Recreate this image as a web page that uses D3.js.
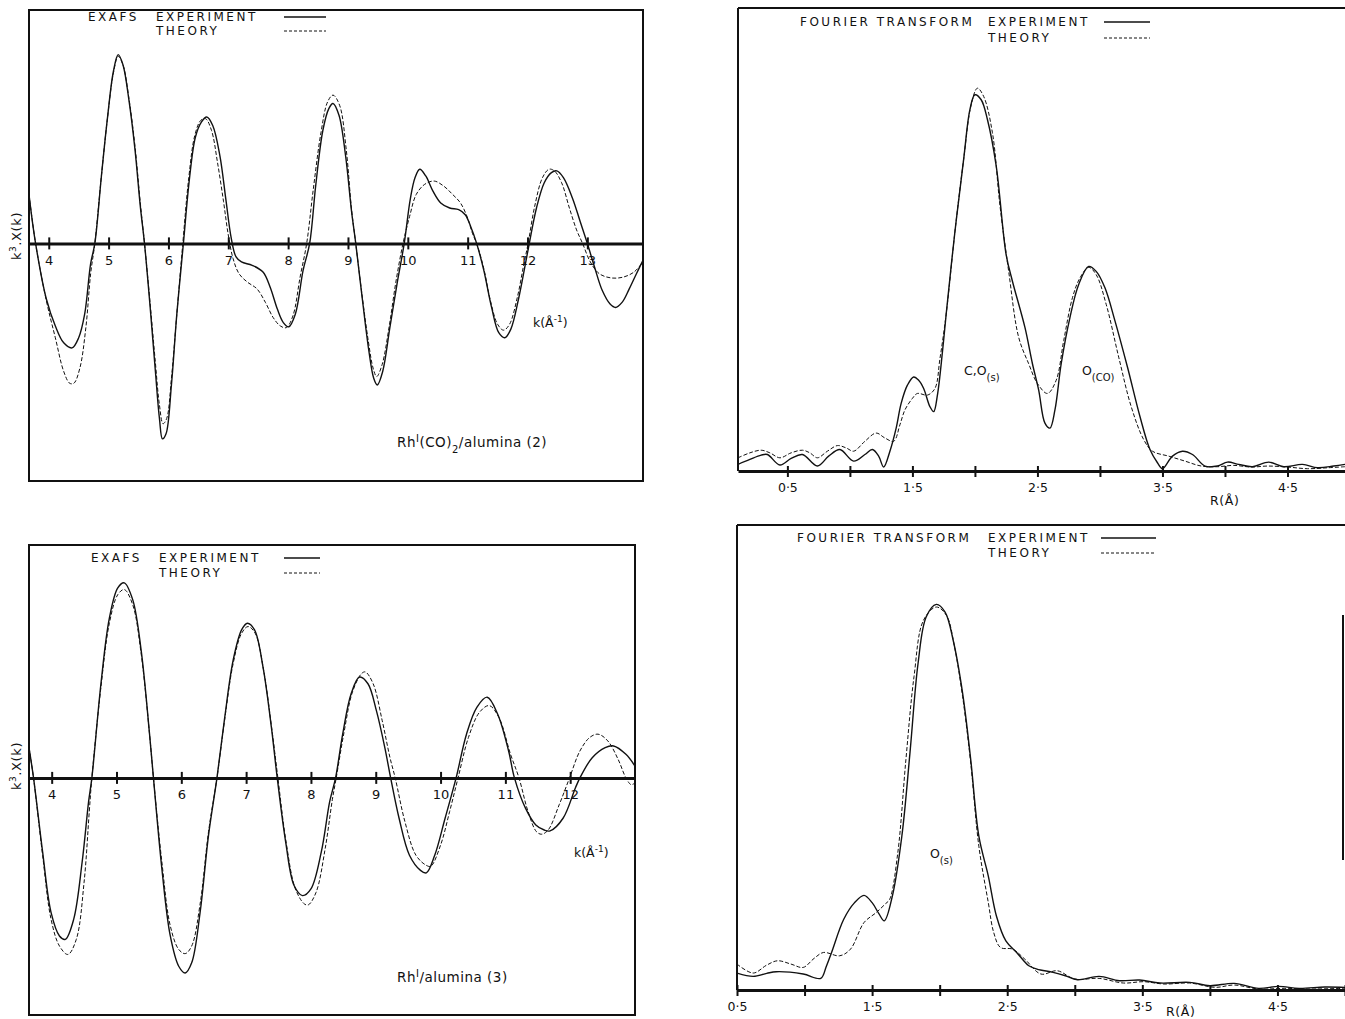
<!DOCTYPE html>
<html>
<head>
<meta charset="utf-8">
<script src="https://cdn.jsdelivr.net/npm/d3@7"></script>
<style>
  body { margin: 0; background: #fff; }
  svg text { font-family: "DejaVu Sans", sans-serif; fill: #111; }
</style>
</head>
<body>
<svg id="fig" width="1345" height="1019"></svg>
<script>
// ---- data (k in 1/A, R in A, amplitudes in arbitrary units) ----
const kTicksTop = [4, 5, 6, 7, 8, 9, 10, 11, 12, 13];
const kTicksBottom = [4, 5, 6, 7, 8, 9, 10, 11, 12];
const rTicks = [0.5, 1, 1.5, 2, 2.5, 3, 3.5, 4, 4.5, 5];
const rLabelled = [0.5, 1.5, 2.5, 3.5, 4.5];

// Rh(I)(CO)2/alumina (2) - EXAFS
const exafs2Experiment = [[3.67,2.9],[3.78,0],[3.96,-3.3],[4.11,-4.9],[4.25,-5.9],[4.39,-6.2],[4.50,-5.6],[4.60,-4.2],[4.70,-1.2],[4.77,0],[4.88,4.0],[4.98,7.4],[5.08,10.2],[5.16,11.2],[5.24,10.6],[5.34,8.5],[5.44,5.6],[5.53,2.2],[5.60,0],[5.69,-3.6],[5.78,-7.5],[5.85,-10.4],[5.90,-11.6],[5.96,-11.3],[6.05,-8.4],[6.14,-4.2],[6.25,0],[6.35,3.8],[6.45,6.3],[6.55,7.2],[6.64,7.5],[6.74,7.0],[6.86,5.2],[6.96,2.6],[7.05,0.3],[7.13,-0.8],[7.22,-1.1],[7.40,-1.3],[7.58,-1.7],[7.70,-2.6],[7.82,-3.9],[7.92,-4.7],[8.01,-4.95],[8.12,-4.2],[8.25,-1.6],[8.36,0],[8.46,3.4],[8.58,6.7],[8.68,8.0],[8.75,8.3],[8.85,7.6],[8.96,5.2],[9.06,1.9],[9.13,0],[9.24,-3.3],[9.35,-6.4],[9.43,-8.0],[9.49,-8.4],[9.58,-7.6],[9.70,-5.0],[9.82,-2.4],[9.94,0],[10.04,2.6],[10.12,3.9],[10.20,4.4],[10.30,4.0],[10.42,3.1],[10.55,2.4],[10.70,2.1],[10.85,2.0],[10.96,1.7],[11.05,1.0],[11.15,0],[11.27,-1.6],[11.40,-3.8],[11.52,-5.3],[11.62,-5.6],[11.72,-5.1],[11.85,-3.3],[11.95,-1.5],[12.03,0],[12.15,2.1],[12.28,3.6],[12.40,4.2],[12.49,4.3],[12.60,3.9],[12.75,2.7],[12.88,1.3],[13.00,0],[13.12,-1.4],[13.25,-2.8],[13.38,-3.6],[13.47,-3.8],[13.58,-3.5],[13.70,-2.7],[13.82,-1.8],[13.93,-1.0]];
const exafs2Theory = [[3.67,2.9],[3.78,0],[3.96,-3.4],[4.11,-5.6],[4.25,-7.6],[4.35,-8.3],[4.42,-8.3],[4.52,-7.4],[4.62,-5.0],[4.70,-1.8],[4.77,0],[4.88,4.0],[4.98,7.4],[5.08,10.1],[5.16,11.1],[5.24,10.6],[5.34,8.6],[5.44,5.8],[5.53,2.4],[5.60,0],[5.69,-3.4],[5.78,-7.0],[5.85,-9.6],[5.91,-10.7],[5.97,-10.4],[6.05,-8.0],[6.14,-4.2],[6.24,0],[6.34,3.9],[6.44,6.4],[6.54,7.3],[6.62,7.4],[6.72,6.7],[6.82,4.8],[6.92,2.5],[7.00,0.5],[7.08,-0.9],[7.18,-1.8],[7.32,-2.3],[7.48,-2.7],[7.62,-3.5],[7.75,-4.4],[7.87,-4.9],[7.97,-5.0],[8.08,-4.3],[8.20,-2.0],[8.31,0],[8.42,3.2],[8.55,6.6],[8.66,8.4],[8.75,8.8],[8.86,8.2],[8.97,5.6],[9.06,2.0],[9.13,0],[9.24,-3.2],[9.34,-5.8],[9.42,-7.4],[9.48,-7.9],[9.57,-7.2],[9.69,-4.9],[9.80,-2.3],[9.92,0],[10.03,1.6],[10.14,2.9],[10.28,3.5],[10.44,3.7],[10.60,3.4],[10.75,2.9],[10.88,2.4],[11.00,1.5],[11.08,0.6],[11.15,0],[11.27,-1.5],[11.38,-3.4],[11.50,-4.8],[11.60,-5.15],[11.70,-4.8],[11.83,-3.2],[11.93,-1.4],[12.01,0],[12.12,2.2],[12.25,3.9],[12.36,4.4],[12.45,4.3],[12.57,3.6],[12.70,2.1],[12.82,0.8],[12.92,0],[13.05,-1.1],[13.20,-1.8],[13.40,-2.05],[13.60,-2.0],[13.78,-1.7],[13.93,-1.1]];

// Rh(I)/alumina (3) - EXAFS
const exafs3Experiment = [[3.65,1.8],[3.72,0],[3.86,-4.4],[3.99,-8.0],[4.12,-9.4],[4.21,-9.6],[4.34,-8.4],[4.47,-5.0],[4.57,-1.4],[4.62,0],[4.76,5.6],[4.89,9.5],[5.02,11.3],[5.12,11.6],[5.25,10.6],[5.38,7.6],[5.51,2.6],[5.57,0],[5.70,-5.4],[5.83,-9.4],[5.96,-11.2],[6.06,-11.6],[6.16,-11.0],[6.29,-8.0],[6.42,-3.4],[6.55,0],[6.67,3.6],[6.80,7.0],[6.93,8.8],[7.02,9.2],[7.13,8.8],[7.26,6.6],[7.39,3.0],[7.48,0],[7.61,-3.8],[7.74,-6.4],[7.87,-7.0],[8.00,-6.6],[8.16,-4.4],[8.29,-1.4],[8.38,0],[8.49,2.6],[8.62,5.0],[8.75,6.0],[8.88,5.6],[9.01,4.0],[9.14,1.8],[9.23,0],[9.36,-2.4],[9.52,-4.6],[9.69,-5.5],[9.78,-5.65],[9.91,-4.6],[10.07,-2.4],[10.24,0],[10.40,2.6],[10.56,4.2],[10.72,4.8],[10.88,3.8],[11.05,1.6],[11.14,0],[11.31,-1.8],[11.47,-2.8],[11.60,-3.1],[11.69,-3.15],[11.89,-2.4],[12.08,-0.6],[12.15,0],[12.34,1.2],[12.54,1.8],[12.67,1.9],[12.86,1.4],[13.0,0.7]];
const exafs3Theory = [[3.65,1.8],[3.72,0],[3.86,-4.6],[3.99,-8.4],[4.12,-10.0],[4.25,-10.5],[4.38,-9.6],[4.50,-6.2],[4.58,-2.0],[4.62,0],[4.76,5.4],[4.89,9.2],[5.02,10.9],[5.12,11.2],[5.25,10.3],[5.38,7.4],[5.51,2.6],[5.57,0],[5.70,-5.0],[5.83,-8.8],[5.96,-10.2],[6.06,-10.45],[6.16,-10.0],[6.29,-7.5],[6.42,-3.2],[6.55,0],[6.67,3.5],[6.80,6.8],[6.93,8.6],[7.03,9.0],[7.14,8.6],[7.27,6.4],[7.40,2.8],[7.49,0],[7.62,-3.9],[7.76,-6.6],[7.90,-7.5],[7.96,-7.55],[8.08,-6.8],[8.22,-4.2],[8.33,-1.3],[8.39,0],[8.51,2.7],[8.64,5.1],[8.78,6.2],[8.84,6.3],[8.96,5.6],[9.10,3.4],[9.22,1.2],[9.30,0],[9.45,-2.6],[9.62,-4.6],[9.78,-5.2],[9.85,-5.25],[10.00,-4.0],[10.14,-2.0],[10.27,0],[10.43,2.4],[10.60,3.9],[10.75,4.3],[10.90,3.6],[11.08,1.4],[11.21,0],[11.35,-2.0],[11.48,-3.2],[11.56,-3.35],[11.66,-3.1],[11.83,-1.6],[11.99,0],[12.15,1.6],[12.30,2.4],[12.43,2.6],[12.58,2.2],[12.74,1.1],[12.86,0],[12.94,-0.4],[13.0,-0.3]];

// Fourier transforms
const ftCoExperiment = [[0.105,0.2],[0.2,0.35],[0.29,0.48],[0.34,0.5],[0.44,0.18],[0.53,0.38],[0.62,0.5],[0.74,0.15],[0.83,0.45],[0.92,0.65],[1.03,0.3],[1.12,0.5],[1.18,0.65],[1.23,0.45],[1.27,0.12],[1.32,0.6],[1.37,1.3],[1.41,2.05],[1.46,2.6],[1.51,2.85],[1.55,2.75],[1.59,2.5],[1.64,1.95],[1.67,1.8],[1.70,2.3],[1.74,3.6],[1.77,4.75],[1.84,7.25],[1.91,9.45],[1.96,10.95],[2.0,11.4],[2.05,11.25],[2.10,10.65],[2.17,9.25],[2.25,6.55],[2.30,5.75],[2.40,4.35],[2.46,3.25],[2.51,2.45],[2.56,1.45],[2.60,1.3],[2.64,1.85],[2.69,3.25],[2.76,4.65],[2.83,5.65],[2.91,6.2],[2.97,6.05],[3.04,5.55],[3.12,4.55],[3.22,3.15],[3.32,1.65],[3.40,0.65],[3.46,0.25],[3.50,0.07],[3.58,0.45],[3.66,0.6],[3.74,0.5],[3.84,0.15],[3.94,0.15],[4.02,0.27],[4.11,0.2],[4.22,0.13],[4.35,0.27],[4.47,0.13],[4.62,0.2],[4.74,0.1],[4.87,0.15],[4.96,0.2]];
const ftCoTheory = [[0.105,0.4],[0.2,0.55],[0.29,0.63],[0.36,0.55],[0.44,0.4],[0.53,0.55],[0.62,0.63],[0.68,0.55],[0.74,0.4],[0.82,0.6],[0.90,0.77],[0.97,0.7],[1.03,0.6],[1.12,0.9],[1.21,1.15],[1.28,1.0],[1.35,0.9],[1.40,1.4],[1.44,1.85],[1.50,2.2],[1.54,2.35],[1.62,2.3],[1.68,2.5],[1.72,3.4],[1.77,4.75],[1.84,7.25],[1.91,9.45],[1.97,11.1],[2.02,11.6],[2.07,11.35],[2.14,10.25],[2.20,8.05],[2.27,6.05],[2.35,4.05],[2.43,3.25],[2.50,2.65],[2.58,2.35],[2.65,2.75],[2.71,3.95],[2.78,5.25],[2.84,5.85],[2.91,6.17],[2.97,5.95],[3.05,5.05],[3.15,3.45],[3.25,1.95],[3.35,0.95],[3.42,0.6],[3.55,0.45],[3.68,0.3],[3.81,0.15],[3.94,0.13],[4.07,0.17],[4.21,0.12],[4.34,0.15],[4.50,0.12],[4.66,0.07],[4.83,0.1],[4.96,0.13]];
const ftOExperiment = [[0.5,0.51],[0.62,0.41],[0.72,0.5],[0.79,0.55],[0.99,0.48],[1.12,0.35],[1.16,0.7],[1.20,1.13],[1.29,2.13],[1.37,2.63],[1.44,2.85],[1.50,2.63],[1.55,2.3],[1.59,2.08],[1.65,2.83],[1.72,4.63],[1.78,7.13],[1.84,9.83],[1.90,11.23],[1.975,11.61],[2.04,11.38],[2.10,10.53],[2.17,8.93],[2.23,6.93],[2.29,4.63],[2.36,3.43],[2.42,2.23],[2.49,1.48],[2.57,1.13],[2.66,0.73],[2.72,0.63],[2.84,0.53],[2.93,0.43],[3.02,0.31],[3.18,0.41],[3.33,0.28],[3.48,0.30],[3.63,0.21],[3.85,0.23],[4.0,0.13],[4.18,0.2],[4.36,0.05],[4.51,0.11],[4.66,0.05],[4.85,0.09],[5.0,0.08]];
const ftOTheory = [[0.5,0.78],[0.62,0.51],[0.72,0.75],[0.80,0.88],[0.90,0.78],[0.99,0.68],[1.07,0.95],[1.14,1.13],[1.26,1.03],[1.34,1.23],[1.44,2.03],[1.53,2.33],[1.60,2.6],[1.63,2.73],[1.69,4.13],[1.75,6.93],[1.81,9.43],[1.88,11.13],[1.975,11.53],[2.05,11.28],[2.11,10.33],[2.17,8.83],[2.23,6.83],[2.29,4.33],[2.36,2.63],[2.40,1.73],[2.45,1.28],[2.54,1.23],[2.63,0.93],[2.75,0.48],[2.87,0.58],[3.0,0.33],[3.18,0.35],[3.36,0.21],[3.51,0.25],[3.66,0.18],[3.85,0.21],[4.04,0.08],[4.18,0.15],[4.36,0.03],[4.55,0.05],[4.74,0.03],[5.0,0.05]];

const ink = "#111";
const svg = d3.select("#fig");
const defs = svg.append("defs");

function curve(g, x, y, data, dashed, clipId) {
    const line = d3.line()
        .x(d => x(d[0]))
        .y(d => y(d[1]))
        .curve(d3.curveCatmullRom.alpha(0.5));
    g.append("path")
        .datum(data)
        .attr("d", line)
        .attr("fill", "none")
        .attr("stroke", ink)
        .attr("stroke-width", dashed ? 1 : 1.4)
        .attr("stroke-dasharray", dashed ? "4,2" : null)
        .attr("clip-path", `url(#${clipId})`);
}

function legend(g, p) {
    const t = g.append("g").attr("font-size", 12).attr("letter-spacing", 2.5);
    p.words.forEach(w => t.append("text").attr("x", w[1]).attr("y", p.y1).text(w[0]));
    t.append("text").attr("x", p.theoryX).attr("y", p.y2).text("THEORY");
    g.append("line").attr("x1", p.lx[0]).attr("x2", p.lx[1]).attr("y1", p.y1 - 4).attr("y2", p.y1 - 4)
        .attr("stroke", ink).attr("stroke-width", 1.3);
    g.append("line").attr("x1", p.lx[0]).attr("x2", p.lx[1]).attr("y1", p.y2 - 4).attr("y2", p.y2 - 4)
        .attr("stroke", ink).attr("stroke-width", 1).attr("stroke-dasharray", "3,2");
}

function drawExafs(p) {
    const g = svg.append("g");
    const x = d3.scaleLinear().domain(p.kDomain).range([p.left, p.right]);
    const y = d3.scaleLinear().domain([-14.1, 13.85]).range([p.bottom, p.top]);

    defs.append("clipPath").attr("id", p.id).append("rect")
        .attr("x", p.left).attr("y", p.top).attr("width", p.right - p.left).attr("height", p.bottom - p.top);

    g.append("rect")
        .attr("x", p.left).attr("y", p.top)
        .attr("width", p.right - p.left).attr("height", p.bottom - p.top)
        .attr("fill", "none").attr("stroke", ink).attr("stroke-width", 2);

    const axis = d3.axisBottom(x)
        .tickValues(p.ticks)
        .tickSizeInner(6)
        .tickSizeOuter(0)
        .tickPadding(6)
        .tickFormat(d3.format("d"));

    const ax = g.append("g")
        .attr("transform", `translate(0, ${y(0)})`)
        .call(axis);
    ax.select(".domain").attr("stroke", ink).attr("stroke-width", 3);
    ax.selectAll(".tick line").attr("y1", -6).attr("stroke", ink).attr("stroke-width", 2);
    ax.selectAll(".tick text").attr("font-size", 13).attr("font-family", null).attr("fill", ink);

    curve(g, x, y, p.theory, true, p.id);
    curve(g, x, y, p.experiment, false, p.id);

    // y label
    const yl = g.append("text")
        .attr("transform", `translate(${p.left - 8}, ${p.yLabelY}) rotate(-90)`)
        .attr("text-anchor", "middle")
        .attr("font-size", 13)
        .attr("letter-spacing", 0.6);
    yl.append("tspan").text("k");
    yl.append("tspan").attr("baseline-shift", "super").attr("font-size", 9).text("3");
    yl.append("tspan").text(".X(k)");

    // k(A^-1)
    const kl = g.append("text").attr("x", p.kLabel[0]).attr("y", p.kLabel[1]).attr("font-size", 12.5);
    kl.append("tspan").text("k(Å");
    kl.append("tspan").attr("baseline-shift", "super").attr("font-size", 9).text("-1");
    kl.append("tspan").text(")");

    // sample name
    const sl = g.append("text").attr("x", p.sample[0]).attr("y", p.sample[1])
        .attr("font-size", 13.5).attr("letter-spacing", 0.5);
    p.sampleParts.forEach(s => {
        const ts = sl.append("tspan").text(s[0]);
        if (s[1]) ts.attr("baseline-shift", s[1]).attr("font-size", 10);
    });

    legend(g, p.legend);
}

function drawFt(p) {
    const g = svg.append("g");
    const x = d3.scaleLinear().domain(p.rDomain).range([p.left, p.right]);
    const y = d3.scaleLinear().domain([0, p.vMax]).range([p.bottom, p.top]);

    defs.append("clipPath").attr("id", p.id).append("rect")
        .attr("x", p.left).attr("y", p.top - 2).attr("width", p.right - p.left).attr("height", p.bottom - p.top + 2);

    g.append("line").attr("x1", p.left).attr("x2", p.left).attr("y1", p.top).attr("y2", p.bottom)
        .attr("stroke", ink).attr("stroke-width", 2);
    g.append("line").attr("x1", p.left).attr("x2", p.right).attr("y1", p.top).attr("y2", p.top)
        .attr("stroke", ink).attr("stroke-width", 2);
    if (p.rightEdge) {
        g.append("line").attr("x1", p.right - 2).attr("x2", p.right - 2)
            .attr("y1", p.rightEdge[0]).attr("y2", p.rightEdge[1])
            .attr("stroke", ink).attr("stroke-width", 2);
    }

    const axis = d3.axisBottom(x)
        .tickValues(rTicks.filter(t => t >= p.rDomain[0] && t <= p.rDomain[1]))
        .tickSizeInner(6)
        .tickSizeOuter(0)
        .tickPadding(6)
        .tickFormat(t => rLabelled.includes(t) ? d3.format(".1f")(t).replace(".", "·") : "");

    const ax = g.append("g")
        .attr("transform", `translate(0, ${p.bottom})`)
        .call(axis);
    ax.select(".domain").attr("stroke", ink).attr("stroke-width", 3);
    ax.selectAll(".tick line").attr("y1", -5).attr("stroke", ink).attr("stroke-width", 2);
    ax.selectAll(".tick text").attr("font-size", 12.5).attr("font-family", null).attr("fill", ink);

    curve(g, x, y, p.theory, true, p.id);
    curve(g, x, y, p.experiment, false, p.id);

    g.append("text").attr("x", p.rLabel[0]).attr("y", p.rLabel[1]).attr("font-size", 12.5)
        .attr("letter-spacing", 0.6).text("R(Å)");

    p.notes.forEach(n => {
        const t = g.append("text").attr("x", n.x).attr("y", n.y).attr("font-size", 12.5);
        t.append("tspan").text(n.main);
        t.append("tspan").attr("baseline-shift", "sub").attr("font-size", 10).text(n.sub);
    });

    legend(g, p.legend);
}

drawExafs({
    id: "clipA", left: 29, right: 643, top: 10, bottom: 481,
    kDomain: [3.67, 13.93], ticks: kTicksTop,
    experiment: exafs2Experiment, theory: exafs2Theory,
    yLabelY: 236, kLabel: [533, 327],
    sample: [397, 447],
    sampleParts: [["Rh"], ["I", "super"], ["(CO)"], ["2", "sub"], ["/alumina (2)"]],
    legend: { words: [["EXAFS", 88], ["EXPERIMENT", 156]], theoryX: 156, y1: 21, y2: 35, lx: [284, 326] }
});

drawExafs({
    id: "clipB", left: 29, right: 635, top: 545, bottom: 1015,
    kDomain: [3.65, 13.0], ticks: kTicksBottom,
    experiment: exafs3Experiment, theory: exafs3Theory,
    yLabelY: 766, kLabel: [574, 857],
    sample: [397, 982],
    sampleParts: [["Rh"], ["I", "super"], ["/alumina (3)"]],
    legend: { words: [["EXAFS", 91], ["EXPERIMENT", 159]], theoryX: 159, y1: 562, y2: 577, lx: [284, 320] }
});

drawFt({
    id: "clipC", left: 738, right: 1345, top: 8, bottom: 471, vMax: 14.03,
    rDomain: [0.105, 4.96],
    experiment: ftCoExperiment, theory: ftCoTheory,
    rLabel: [1210, 505],
    notes: [{ x: 964, y: 375, main: "C,O", sub: "(s)" }, { x: 1082, y: 375, main: "O", sub: "(CO)" }],
    legend: { words: [["FOURIER TRANSFORM", 800], ["EXPERIMENT", 988]], theoryX: 988, y1: 26, y2: 42, lx: [1104, 1150] }
});

drawFt({
    id: "clipD", left: 737, right: 1345, top: 525, bottom: 990, vMax: 14.0,
    rDomain: [0.5, 5.0], rightEdge: [615, 860],
    experiment: ftOExperiment, theory: ftOTheory,
    rLabel: [1166, 1016],
    notes: [{ x: 930, y: 858, main: "O", sub: "(s)" }],
    legend: { words: [["FOURIER TRANSFORM", 797], ["EXPERIMENT", 988]], theoryX: 988, y1: 542, y2: 557, lx: [1101, 1156] }
});
</script>
</body>
</html>
